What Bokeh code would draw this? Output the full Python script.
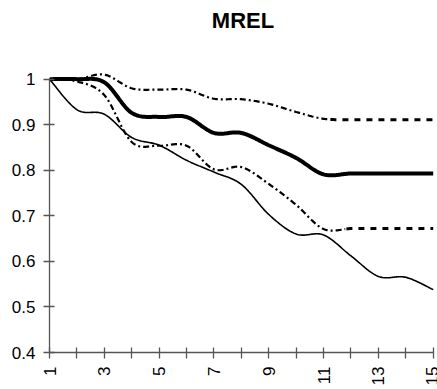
import math
import numpy as np
from bokeh.plotting import figure
from bokeh.models import FixedTicker, Range1d, CustomJSTickFormatter, Title
from bokeh.embed import file_html
from bokeh.resources import INLINE

# ---- data ----
steps = list(range(1, 16))
series_thick = [1.0, 1.0, 0.993, 0.926, 0.917, 0.917, 0.882, 0.882, 0.855, 0.827, 0.791, 0.793, 0.793, 0.793, 0.793]
series_upper = [1.0, 1.0, 1.01, 0.98, 0.977, 0.977, 0.957, 0.956, 0.946, 0.928, 0.913, 0.911, 0.911, 0.911, 0.911]
series_lower = [1.0, 0.995, 0.965, 0.862, 0.854, 0.854, 0.802, 0.807, 0.77, 0.724, 0.671, 0.672, 0.672, 0.672, 0.672]
series_thin = [1.0, 0.933, 0.923, 0.872, 0.855, 0.822, 0.796, 0.769, 0.703, 0.66, 0.658, 0.612, 0.567, 0.565, 0.538]
y_ticks = [0.4, 0.5, 0.6, 0.7, 0.8, 0.9, 1.0]
x_tick_labels = ["1", "", "3", "", "5", "", "7", "", "9", "", "11", "", "13", "", "15"]
chart_title = "MREL"


def smooth(xs, ys, n=24):
    """Smoothed polyline through the points (cubic Bezier, tension 1/6)."""
    xs = np.asarray(xs, float)
    ys = np.asarray(ys, float)
    px = np.concatenate([[xs[0]], xs, [xs[-1]]])
    py = np.concatenate([[ys[0]], ys, [ys[-1]]])
    out_x, out_y = [], []
    t = np.linspace(0, 1, n, endpoint=False)
    for i in range(1, len(px) - 2):
        p0 = np.array([px[i], py[i]])
        p3 = np.array([px[i + 1], py[i + 1]])
        c1 = p0 + (p3 - np.array([px[i - 1], py[i - 1]])) / 6
        c2 = p3 - (np.array([px[i + 2], py[i + 2]]) - p0) / 6
        b = ((1 - t) ** 3)[:, None] * p0 + (3 * (1 - t) ** 2 * t)[:, None] * c1 \
            + (3 * (1 - t) * t ** 2)[:, None] * c2 + (t ** 3)[:, None] * p3
        out_x.extend(b[:, 0])
        out_y.extend(b[:, 1])
    out_x.append(xs[-1])
    out_y.append(ys[-1])
    return np.array(out_x), np.array(out_y)


p = figure(width=437, height=389, output_backend="svg", toolbar_location=None, title=None,
           x_range=Range1d(1, 15.12), y_range=Range1d(0.4, 1.03),
           min_border_left=49, min_border_right=1, min_border_top=0, min_border_bottom=37)

# blank band between the title and the plot frame, then the title above it
p.add_layout(Title(text=" ", text_font_size="14px", standoff=10), "above")
p.add_layout(Title(text=chart_title, align="center", text_font="Liberation Sans",
                   text_font_size="22px", text_font_style="bold", text_color="black",
                   standoff=10), "above")

p.outline_line_color = None
p.xgrid.visible = False
p.ygrid.visible = False
p.background_fill_color = "white"
p.border_fill_color = "white"

axis_color = "#555555"
for ax in (p.xaxis[0], p.yaxis[0]):
    ax.axis_line_color = axis_color
    ax.major_tick_line_color = axis_color
    ax.axis_line_width = 1.3
    ax.major_tick_line_width = 1.3
    ax.major_tick_in = 5
    ax.major_tick_out = 6
    ax.minor_tick_line_color = None
    ax.major_label_text_font = "Liberation Sans"
    ax.major_label_text_font_size = "17px"
    ax.major_label_text_color = "black"

p.yaxis.ticker = FixedTicker(ticks=y_ticks)
p.yaxis.bounds = (0.4, 1.0)
p.yaxis.formatter = CustomJSTickFormatter(code="return String(tick)")
p.yaxis.major_label_standoff = 8

p.xaxis.ticker = FixedTicker(ticks=steps)
p.xaxis.bounds = (1, 15)
p.xaxis.major_label_overrides = {s: lab for s, lab in zip(steps, x_tick_labels)}
p.xaxis.major_label_orientation = math.pi / 2
p.xaxis.major_label_standoff = 8

# thick solid
sx, sy = smooth(steps, series_thick)
p.line(sx, sy, line_color="black", line_width=4)

# thin solid
sx, sy = smooth(steps, series_thin)
p.line(sx, sy, line_color="black", line_width=1.6)

# dash-dot series: dash-dot along the curve, plain dashes on the level tail
for ys, split in ((series_upper, 11.25), (series_lower, 11.8)):
    sx, sy = smooth(steps, ys)
    m1 = sx <= split
    m2 = sx >= split
    p.line(sx[m1], sy[m1], line_color="black", line_width=2.2, line_dash="6 3 2 3")
    p.line(sx[m2], sy[m2], line_color="black", line_width=3, line_dash="6 6")

open("out.html", "w").write(file_html(p, INLINE))
